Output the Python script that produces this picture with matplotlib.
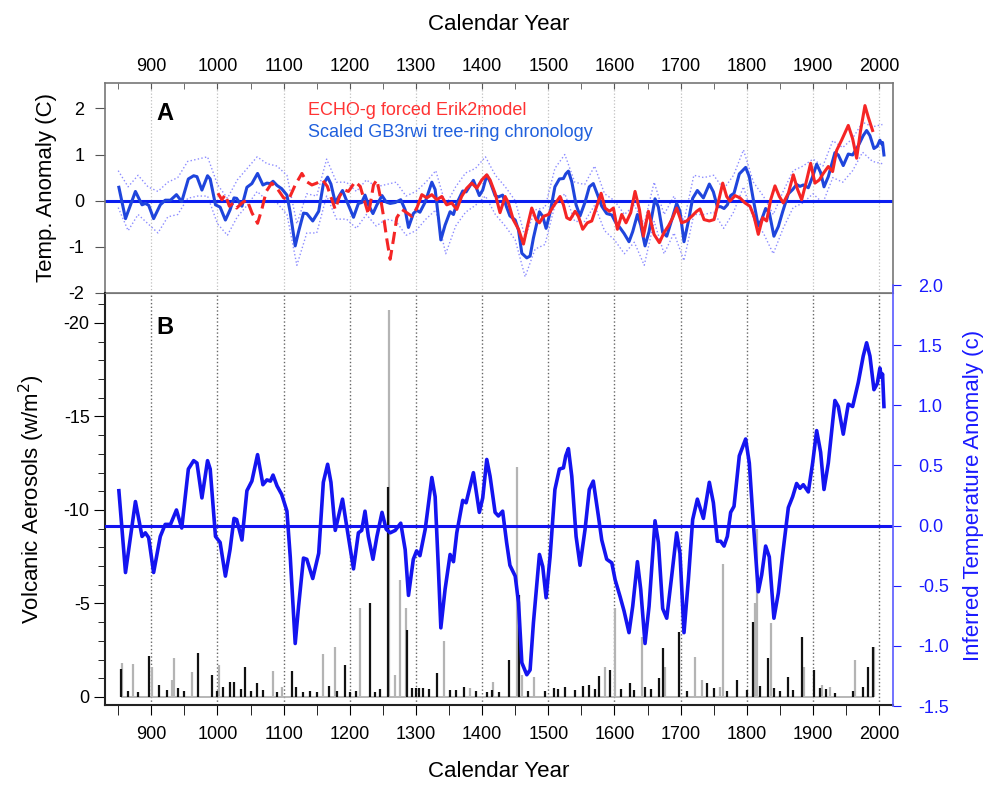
import matplotlib
matplotlib.use('Agg')
import matplotlib.pyplot as plt
from matplotlib.ticker import MultipleLocator, FormatStrFormatter

plt.rcParams['font.family'] = ['Liberation Sans', 'DejaVu Sans']
plt.rcParams['axes.unicode_minus'] = False

# scaled GB3rwi tree-ring chronology (deg C), shared by panels A and B
tree_years = [851, 861, 876, 886, 891, 896, 903.5, 913.6, 921, 929, 938, 946, 956, 964, 969,
              976.5, 985, 989, 997, 1004, 1012, 1019, 1025, 1029, 1037, 1044.5, 1052, 1060.6,
              1068.7, 1074.7, 1080, 1084, 1090, 1097, 1105, 1110, 1117.5, 1122.6, 1130, 1135,
              1144, 1153, 1160, 1166.5, 1171.5, 1178, 1183, 1189, 1194.6, 1205.6, 1213, 1218,
              1223, 1228, 1235, 1241, 1248.7, 1255, 1261, 1268.6, 1277, 1283.7, 1288.7, 1296,
              1301, 1306, 1314, 1324, 1329, 1334, 1337.6, 1344, 1351.6, 1356.7, 1361.7, 1370.7,
              1375.8, 1386.8, 1395.8, 1400.9, 1407, 1412, 1419.6, 1424.6, 1431, 1437, 1442,
              1450, 1455, 1460, 1467.5, 1472.5, 1477.5, 1486.6, 1491.6, 1496.7, 1502.7, 1510,
              1516.8, 1522.9, 1526.4, 1530.4, 1535.5, 1542, 1548, 1555.6, 1562, 1568, 1575.7,
              1580.8, 1588.3, 1596, 1601, 1608.5, 1614.5, 1622, 1627.6, 1634.7, 1639.7, 1646.2,
              1652.3, 1661.3, 1666.4, 1672.9, 1679, 1686.5, 1694, 1699, 1705.1, 1711.7, 1718.2,
              1725.3, 1734.4, 1743.4, 1749.5, 1755.5, 1760.5, 1765.6, 1770.6, 1775.6, 1780.7,
              1788.7, 1798.3, 1803.8, 1809.9, 1817.4, 1822.5, 1828.5, 1834, 1841, 1847.7,
              1854.2, 1862.8, 1869.3, 1875.3, 1880.4, 1885.4, 1893, 1899.5, 1905.6, 1911.6,
              1916.7, 1923.2, 1933.2, 1938.3, 1945.8, 1953.4, 1960, 1968.5, 1976, 1981.1,
              1986.1, 1992.2, 1997.2, 2001.2, 2003.7, 2005.2, 2007.3]
tree_vals = [0.29, -0.39, 0.20, -0.09, -0.06, -0.10, -0.39, -0.09, 0.01, 0.01, 0.13, -0.02, 0.47,
             0.54, 0.52, 0.23, 0.54, 0.47, -0.09, -0.14, -0.42, -0.20, 0.06, 0.05, -0.12, 0.29,
             0.37, 0.59, 0.34, 0.38, 0.37, 0.42, 0.33, 0.26, 0.12, -0.26, -0.98, -0.67, -0.27,
             -0.28, -0.44, -0.23, 0.36, 0.51, 0.36, -0.04, 0.08, 0.22, 0.02, -0.36, -0.06, -0.04,
             0.12, -0.09, -0.28, -0.09, 0.11, -0.03, -0.06, -0.04, 0.02, -0.20, -0.58, -0.28,
             -0.21, -0.25, -0.03, 0.40, 0.24, -0.37, -0.85, -0.53, -0.24, -0.30, -0.06, 0.21,
             0.19, 0.44, 0.11, 0.23, 0.55, 0.41, 0.11, 0.08, 0.12, -0.14, -0.33, -0.42, -0.64,
             -1.14, -1.24, -1.20, -0.81, -0.24, -0.34, -0.60, -0.26, 0.30, 0.47, 0.48, 0.58,
             0.64, 0.41, -0.09, -0.33, -0.03, 0.30, 0.37, 0.08, -0.12, -0.28, -0.31, -0.45,
             -0.59, -0.71, -0.89, -0.67, -0.30, -0.53, -0.98, -0.67, 0.04, -0.14, -0.69, -0.77,
             -0.42, -0.06, -0.23, -0.89, -0.45, 0.05, 0.22, 0.06, 0.36, 0.19, -0.13, -0.13,
             -0.17, -0.09, 0.11, 0.16, 0.58, 0.72, 0.52, 0.02, -0.55, -0.41, -0.17, -0.26,
             -0.77, -0.56, -0.24, 0.15, 0.24, 0.35, 0.31, 0.34, 0.28, 0.52, 0.79, 0.61, 0.30,
             0.52, 1.04, 0.99, 0.76, 1.01, 0.99, 1.19, 1.41, 1.52, 1.41, 1.13, 1.18, 1.31,
             1.23, 1.26, 0.99]

# uncertainty envelope of the chronology (dotted)
env_years = [850, 865, 880, 895, 910, 925, 940, 955, 970, 985, 1000, 1015, 1030, 1045, 1060,
             1075, 1090, 1105, 1120, 1135, 1150, 1165, 1180, 1195, 1210, 1225, 1240, 1255,
             1270, 1285, 1300, 1315, 1330, 1345, 1360, 1375, 1390, 1405, 1420, 1435, 1450,
             1465, 1480, 1495, 1510, 1525, 1540, 1555, 1570, 1585, 1600, 1615, 1630, 1645,
             1660, 1675, 1690, 1705, 1720, 1735, 1750, 1765, 1780, 1795, 1810, 1825, 1840,
             1855, 1870, 1885, 1900, 1915, 1930, 1945, 1960, 1975, 1990, 2005]
env_upper = [0.65, 0.30, 0.55, 0.30, 0.20, 0.40, 0.50, 0.85, 0.90, 0.95, 0.35, 0.05, 0.45, 0.70,
             0.95, 0.80, 0.75, 0.55, -0.50, 0.15, 0.10, 0.90, 0.40, 0.40, 0.20, 0.45, 0.30,
             0.35, 0.40, 0.10, 0.20, 0.40, 0.65, -0.10, 0.30, 0.60, 0.70, 0.95, 0.55, 0.30,
             0.00, -0.80, -0.20, -0.15, 0.70, 1.00, 0.40, 0.35, 0.75, 0.15, 0.00, -0.30, -0.10,
             -0.50, 0.40, -0.30, 0.10, -0.45, 0.55, 0.50, 0.55, 0.25, 0.55, 1.10, 0.40, 0.10,
             -0.30, 0.20, 0.65, 0.75, 0.90, 0.75, 1.30, 1.15, 1.35, 1.70, 1.60, 1.65]
env_lower = [-0.15, -0.65, -0.30, -0.50, -0.70, -0.35, -0.30, 0.05, 0.10, 0.10, -0.50, -0.75,
             -0.35, -0.10, 0.20, 0.00, -0.05, -0.30, -1.40, -0.70, -0.70, 0.10, -0.40, -0.40,
             -0.60, -0.30, -0.55, -0.40, -0.45, -0.75, -0.65, -0.40, -0.20, -1.15, -0.55,
             -0.25, -0.10, 0.10, -0.30, -0.55, -0.85, -1.65, -1.05, -0.95, -0.10, 0.15, -0.45,
             -0.45, -0.10, -0.65, -0.85, -1.15, -0.90, -1.40, -0.45, -1.15, -0.70, -1.30,
             -0.30, -0.30, -0.25, -0.60, -0.25, 0.30, -0.40, -0.70, -1.15, -0.60, -0.15, -0.05,
             0.15, -0.05, 0.50, 0.40, 0.65, 1.05, 0.85, 0.80]

# ECHO-g forced Erik2 model run (deg C)
model_years = [1000.7, 1006.7, 1011.8, 1018, 1024, 1029, 1037, 1044.5, 1052, 1060.6, 1067,
               1073.7, 1082, 1090, 1100, 1107.5, 1117.5, 1127.6, 1135, 1142.7, 1150, 1158.8,
               1166, 1173, 1178, 1184.5, 1190.5, 1198, 1208, 1215.7, 1221.7, 1228.3, 1235.8,
               1241, 1246, 1251, 1256, 1261, 1266, 1271, 1278.7, 1286, 1293.8, 1301.3, 1308.9,
               1316.4, 1324, 1331.5, 1339, 1346.5, 1354, 1361.7, 1369, 1376.8, 1384.4, 1392,
               1399.5, 1407, 1412, 1419.6, 1427, 1434.8, 1439.8, 1447, 1455, 1462.5, 1468.5,
               1475, 1481.6, 1486.6, 1492.7, 1500.2, 1507.8, 1517.8, 1522.9, 1527.9, 1533,
               1540.5, 1545.5, 1552, 1559, 1565.7, 1573.2, 1579.8, 1585.8, 1592.4, 1598.4,
               1604.4, 1611, 1617.5, 1624.6, 1631.1, 1637.7, 1643.7, 1651.3, 1659.8, 1667.9,
               1675, 1681.5, 1688, 1694, 1701.6, 1709.2, 1716.7, 1724.3, 1729.3, 1735.4, 1743.4,
               1750.5, 1755.5, 1763.6, 1769.6, 1774.6, 1782.2, 1789.7, 1797.3, 1804.8, 1810.9,
               1817.4, 1824, 1830, 1836.1, 1842.6, 1849.2, 1855.2, 1862.8, 1870.3, 1876.8,
               1882.9, 1889.4, 1896.5, 1903, 1909.6, 1915.6, 1923.2, 1929.7, 1935.8, 1943.3,
               1953.4, 1960, 1966, 1972, 1978.6, 1983.6, 1990.1]
model_vals = [0.16, 0.02, 0.13, -0.12, -0.05, -0.16, -0.05, 0.02, -0.26, -0.49, -0.19, 0.20,
              0.38, 0.27, 0.06, 0.02, 0.34, 0.59, 0.41, 0.34, 0.38, 0.45, 0.31, 0.02, -0.19,
              0.09, 0.24, 0.20, 0.41, 0.31, 0.02, -0.30, 0.34, 0.45, 0.09, -0.34, -0.84, -1.27,
              -0.84, -0.37, -0.19, -0.26, -0.34, -0.16, 0.13, 0.06, 0.13, 0.02, 0.09, -0.09,
              -0.05, -0.19, 0.09, 0.27, 0.38, 0.27, 0.45, 0.56, 0.45, 0.16, -0.26, 0.09, -0.05,
              -0.41, -0.62, -0.94, -0.55, -0.16, -0.41, -0.48, -0.34, -0.30, -0.12, 0.09, -0.09,
              -0.37, -0.41, -0.23, -0.34, -0.62, -0.48, -0.44, -0.12, 0.16, -0.16, -0.23, -0.16,
              -0.62, -0.30, -0.48, -0.26, 0.20, -0.19, -0.77, -0.23, -0.73, -0.91, -0.69, -0.55,
              -0.37, -0.16, -0.48, -0.44, -0.34, -0.23, -0.18, -0.41, -0.44, -0.41, -0.12, 0.38,
              0.09, -0.01, 0.11, 0.06, -0.05, -0.12, -0.34, -0.73, -0.37, -0.44, 0.02, 0.32,
              0.09, -0.05, 0.16, 0.56, 0.24, 0.02, 0.38, 0.81, 0.38, 0.45, 0.59, 0.74, 0.63,
              1.09, 1.31, 1.63, 1.34, 0.92, 1.52, 2.06, 1.81, 1.52]
model_dash_end = 1301.3

# volcanic aerosol forcing (W/m^2), two reconstructions
volc_black_years = [854, 865, 880, 897, 912, 924, 941, 950, 971, 992, 1000, 1008, 1019, 1025,
                    1035, 1042, 1050, 1060, 1069, 1090, 1113, 1118, 1130, 1140, 1150, 1169, 1180,
                    1193, 1201, 1210, 1230, 1238, 1245, 1258, 1287, 1294, 1300, 1304, 1311, 1320,
                    1332, 1352, 1360, 1372, 1390, 1407, 1415, 1425, 1441, 1456, 1470, 1495, 1508,
                    1515, 1525, 1540, 1553, 1562, 1570, 1577, 1594, 1610, 1623, 1630, 1646, 1655,
                    1668, 1674, 1697, 1710, 1740, 1750, 1770, 1785, 1800, 1809, 1820, 1832, 1841,
                    1850, 1862, 1870, 1884, 1902, 1910, 1920, 1933, 1960, 1975, 1983, 1991]
volc_black_vals = [-1.5, -0.3, -0.25, -2.2, -0.64, -0.37, -0.46, -0.3, -2.37, -1.18, -0.3, -0.55,
                   -0.82, -0.82, -0.4, -1.62, -0.3, -0.77, -0.37, -0.25, -1.39, -0.55, -0.29,
                   -0.3, -0.29, -0.59, -0.3, -1.71, -0.29, -0.3, -5.0, -0.29, -0.4, -11.25, -3.58,
                   -0.46, -0.5, -0.5, -0.46, -0.4, -1.3, -0.37, -0.35, -0.55, -0.3, -0.29, -0.35,
                   -0.29, -2.0, -5.45, -0.3, -0.32, -0.46, -0.4, -0.55, -0.35, -0.59, -0.64, -0.4,
                   -1.12, -1.44, -0.4, -0.73, -0.35, -0.55, -0.4, -1.0, -2.6, -3.49, -0.3, -0.77,
                   -0.5, -0.3, -0.91, -0.37, -4.0, -0.6, -2.07, -0.46, -0.3, -1.09, -0.35, -3.19,
                   -1.44, -0.5, -0.4, -0.2, -0.3, -0.55, -1.62, -2.66]
volc_gray_years = [856, 872, 901, 931, 934, 962, 1002, 1084, 1097, 1159, 1177, 1215, 1259, 1269,
                   1276, 1285, 1343, 1382, 1417, 1453, 1460, 1479, 1586, 1601, 1641, 1677, 1721,
                   1732, 1760, 1764, 1813, 1816, 1836, 1886, 1913, 1926, 1963, 1992]
volc_gray_vals = [-1.8, -1.76, -1.6, -0.9, -2.07, -1.35, -1.71, -1.39, -0.55, -2.3, -2.66, -4.78,
                  -20.7, -1.18, -6.26, -4.74, -2.99, -0.46, -0.82, -12.3, -1.18, -1.09, -1.62,
                  -4.76, -3.2, -1.62, -2.16, -0.91, -0.55, -7.11, -5.0, -9.0, -3.94, -1.62,
                  -0.64, -0.55, -1.98, -2.69]

grid_years = list(range(900, 2001, 100))

BLUE_A = '#1f45dc'
BLUE_B = '#1414f0'
RED = '#f52525'
XLIM = (830, 2021)


def main():
    fig = plt.figure(figsize=(9.97, 7.85), dpi=100)
    ax_a = fig.add_axes([0.1053, 0.6268, 0.7904, 0.2675])
    ax_b = fig.add_axes([0.1053, 0.1019, 0.7904, 0.5248])
    ax_t = fig.add_axes([0.1053, 0.1006, 0.7904, 0.5363], facecolor='none')

    # ---- panel A
    ax_a.set_xlim(*XLIM)
    ax_a.set_ylim(-2.0, 2.55)
    for yr in grid_years:
        ax_a.axvline(yr, color='#c0c0c0', ls=':', lw=0.9, zorder=0)
    ax_a.plot(env_years, env_upper, ls=':', color='#8c8cff', lw=1.0)
    ax_a.plot(env_years, env_lower, ls=':', color='#8c8cff', lw=1.0)
    ax_a.axhline(0, color='#0a1ef0', lw=2.2)
    ax_a.plot(tree_years, tree_vals, color=BLUE_A, lw=2.2)
    dash_y = [y for y in model_years if y <= model_dash_end]
    n = len(dash_y)
    ax_a.plot(model_years[:n], model_vals[:n], color=RED, lw=2.2, ls=(0, (4, 2)))
    ax_a.plot(model_years[n - 1:], model_vals[n - 1:], color=RED, lw=2.2)

    ax_a.xaxis.tick_top()
    ax_a.xaxis.set_label_position('top')
    ax_a.set_xticks(grid_years)
    ax_a.xaxis.set_minor_locator(MultipleLocator(50))
    ax_a.tick_params(axis='x', which='both', direction='in', length=4, top=True,
                     bottom=False, labelsize=13, pad=6, color='#555555')
    ax_a.set_xlabel('Calendar Year', fontsize=16, labelpad=20)
    ax_a.set_yticks([-2, -1, 0, 1, 2])
    ax_a.tick_params(axis='y', direction='out', length=7, labelsize=13, pad=8,
                     color='#555555')
    ax_a.set_ylabel('Temp. Anomaly (C)', fontsize=16, labelpad=8)
    for sp in ax_a.spines.values():
        sp.set_color('#777777')
        sp.set_linewidth(1.2)
    ax_a.text(0.076, 0.857, 'A', transform=ax_a.transAxes, fontsize=17,
              fontweight='bold', ha='center', va='center')
    ax_a.text(0.2576, 0.871, 'ECHO-g forced Erik2model', transform=ax_a.transAxes,
              fontsize=13, color='#ff3333', ha='left', va='center')
    ax_a.text(0.2576, 0.762, 'Scaled GB3rwi tree-ring chronology', transform=ax_a.transAxes,
              fontsize=13, color='#2060dd', ha='left', va='center')

    # ---- panel B (volcanic aerosols, left axis)
    ax_b.set_xlim(*XLIM)
    ax_b.set_ylim(0.43, -21.6)
    for yr in grid_years:
        ax_b.axvline(yr, color='#666666', ls=':', lw=1.0, zorder=0)
    ax_b.hlines(0, min(volc_gray_years + volc_black_years),
                max(volc_gray_years + volc_black_years), color='#aaaaaa', lw=1.2)
    ax_b.vlines(volc_gray_years, 0, volc_gray_vals, color='#b4b4b4', lw=1.6)
    ax_b.vlines(volc_black_years, 0, volc_black_vals, color='#111111', lw=1.6)

    ax_b.set_xticks(grid_years)
    ax_b.xaxis.set_minor_locator(MultipleLocator(50))
    ax_b.tick_params(axis='x', which='both', direction='out', length=7, labelsize=13,
                     pad=8, bottom=True, top=False)
    ax_b.set_xlabel('Calendar Year', fontsize=16, labelpad=13)
    ax_b.set_yticks([0, -5, -10, -15, -20])
    ax_b.yaxis.set_minor_locator(MultipleLocator(1))
    ax_b.tick_params(axis='y', which='major', direction='out', length=8, labelsize=13, pad=3)
    ax_b.tick_params(axis='y', which='minor', direction='out', length=5)
    ax_b.set_ylabel('Volcanic Aerosols (w/m$^2$)', fontsize=16, labelpad=12)
    ax_b.spines['right'].set_visible(False)
    ax_b.spines['top'].set_color('#777777')
    for side in ['left', 'bottom']:
        ax_b.spines[side].set_color('#222222')
        ax_b.spines[side].set_linewidth(1.5)
    ax_b.text(0.076, 0.917, 'B', transform=ax_b.transAxes, fontsize=17,
              fontweight='bold', ha='center', va='center')

    # ---- panel B (inferred temperature, right axis)
    ax_t.set_xlim(*XLIM)
    ax_t.set_ylim(-1.5, 2.0)
    ax_t.axhline(0, color=BLUE_B, lw=2.2)
    ax_t.plot(tree_years, tree_vals, color=BLUE_B, lw=2.6)
    for side in ['left', 'top', 'bottom']:
        ax_t.spines[side].set_visible(False)
    ax_t.spines['right'].set_color('#5a5aff')
    ax_t.spines['right'].set_linewidth(1.2)
    ax_t.xaxis.set_visible(False)
    ax_t.yaxis.tick_right()
    ax_t.yaxis.set_label_position('right')
    ax_t.yaxis.set_major_locator(MultipleLocator(0.5))
    ax_t.yaxis.set_major_formatter(FormatStrFormatter('%.1f'))
    ax_t.tick_params(axis='y', direction='out', length=6, labelsize=13, pad=12,
                     colors='#1a1aff')
    ax_t.set_ylabel('Inferred Temperature Anomaly (c)', fontsize=16, color='#1a1aff',
                    labelpad=10)

    fig.savefig('out.png', dpi=100)


if __name__ == '__main__':
    main()
